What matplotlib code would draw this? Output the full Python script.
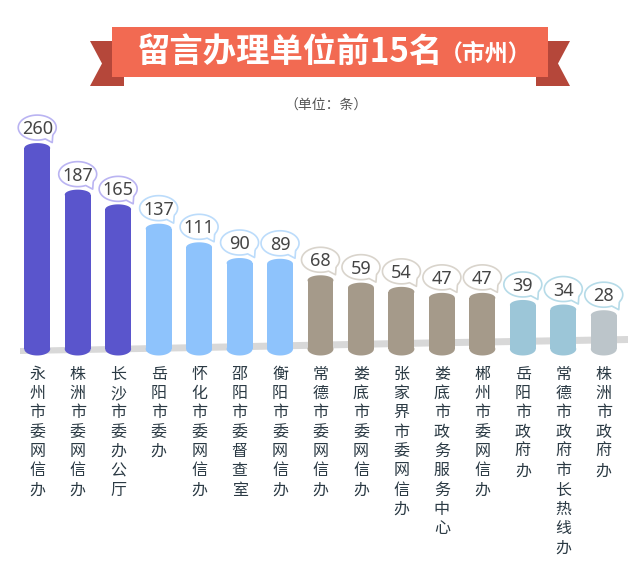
import numpy as np
import matplotlib.pyplot as plt
from matplotlib.path import Path
from matplotlib.patches import Polygon, Rectangle

plt.rcParams['font.family'] = ['Noto Sans CJK SC', 'DejaVu Sans']

# 数据
units = ['永州市委网信办', '株洲市委网信办', '长沙市委办公厅', '岳阳市委办', '怀化市委网信办',
         '邵阳市委督查室', '衡阳市委网信办', '常德市委网信办', '娄底市委网信办', '张家界市委网信办',
         '娄底市政务服务中心', '郴州市委网信办', '岳阳市政府办', '常德市政府市长热线办', '株洲市政府办']
counts = [260, 187, 165, 137, 111, 90, 89, 68, 59, 54, 47, 47, 39, 34, 28]
groups = [0, 0, 0, 1, 1, 1, 1, 2, 2, 2, 2, 2, 3, 3, 4]

bar_colors = ['#5a55cc', '#8ec3fc', '#a59a8a', '#9cc6d8', '#bcc5ca']
bubble_edges = ['#bab4f2', '#bcdcfb', '#d9d4cc', '#b6dbe8', '#b6dbe8']

W, H = 634, 571


def P(x, y):
    # 像素 -> figure 坐标
    return (x / W, 1 - y / H)


def px_marker(verts):
    # 以像素为单位的自定义 marker，返回 path 和 scatter 的 s
    verts = np.asarray(verts, float)
    r = np.abs(verts).max()
    return Path(verts), (2 * r * 0.72) ** 2


t = np.linspace(0, 2 * np.pi, 60)
top_cap, top_s = px_marker(np.c_[12.95 * np.cos(t), 5 * np.sin(t)])
bot_cap, bot_s = px_marker(np.c_[12.95 * np.cos(t), 6.5 * np.sin(t)])

a, b, cy = 19, 12.5, 20.5
th = np.radians(np.linspace(-35, 295, 80))
bub = np.c_[a * np.cos(th), cy + b * np.sin(th)]
bub = np.vstack([bub, [[15, 5.5]], bub[:1]])
bubble, bubble_s = px_marker(bub)

fig = plt.figure(figsize=(W / 100, H / 100), dpi=100)

# 标题丝带
tail_c = '#b5473a'
fig.add_artist(Polygon([P(90, 41), P(124, 41), P(124, 86), P(90, 86), P(102, 63.5)],
                       closed=True, transform=fig.transFigure, color=tail_c, lw=0))
fig.add_artist(Polygon([P(536, 41), P(570, 41), P(558, 63.5), P(570, 86), P(536, 86)],
                       closed=True, transform=fig.transFigure, color=tail_c, lw=0))
x0, y0 = P(112, 77)
fig.add_artist(Rectangle((x0, y0), 436 / W, 50 / H, transform=fig.transFigure,
                         color='#f26a52', lw=0))
fig.text(*P(443, 53), '留言办理单位前15名', ha='right', va='center', color='white',
         fontsize=24, fontweight='bold')
fig.text(*P(440, 54), '（市州）', ha='left', va='center', color='white',
         fontsize=16.5, fontweight='bold')
fig.text(*P(326, 106), '（单位：条）', ha='center', va='center', color='#555555', fontsize=10)

# 地面阴影
band = [P(20, 348), P(200, 344), P(400, 340), P(628, 336),
        P(628, 343), P(400, 347), P(200, 351), P(20, 354)]
fig.add_artist(Polygon(band, closed=True, transform=fig.transFigure,
                       color='#d8d8d8', lw=0, zorder=-1))

ax = fig.add_axes([17 / W, 1 - 349 / H, 607 / W, 239 / H])
ax.patch.set_visible(False)
p = 0.8
ax.set_yscale('function', functions=(lambda v: np.sign(v) * np.abs(v) ** p,
                                     lambda v: np.sign(v) * np.abs(v) ** (1 / p)))

x = np.arange(len(counts))
cols = [bar_colors[g] for g in groups]
edges = [bubble_edges[g] for g in groups]

ax.bar(x, counts, width=0.64, color=cols, zorder=2)
ax.scatter(x, counts, marker=top_cap, s=top_s, c=cols, linewidths=0, zorder=3, clip_on=False)
ax.scatter(x, np.zeros(len(x)), marker=bot_cap, s=bot_s, c=cols, linewidths=0, zorder=2,
           clip_on=False)
ax.scatter(x, counts, marker=bubble, s=bubble_s, facecolors='white', edgecolors=edges,
           linewidths=1.2, zorder=4, clip_on=False)

for i, v in enumerate(counts):
    ax.annotate(str(v), (i, v), xytext=(0, 10), textcoords='offset points',
                ha='center', va='baseline', fontsize=13, color='#454545',
                family=['Noto Sans', 'DejaVu Sans'], zorder=5, annotation_clip=False)
    ax.annotate('\n'.join(units[i]), (i, 0), xycoords=('data', 'axes fraction'),
                xytext=(0, -12), textcoords='offset points', ha='center', va='top',
                fontsize=11.5, fontweight='light', color='#2b3a44', linespacing=1.18,
                annotation_clip=False)

ax.set_xlim(-0.5, 14.5)
ax.set_ylim(0, 323)
ax.axis('off')

fig.savefig('out.png', dpi=100)
